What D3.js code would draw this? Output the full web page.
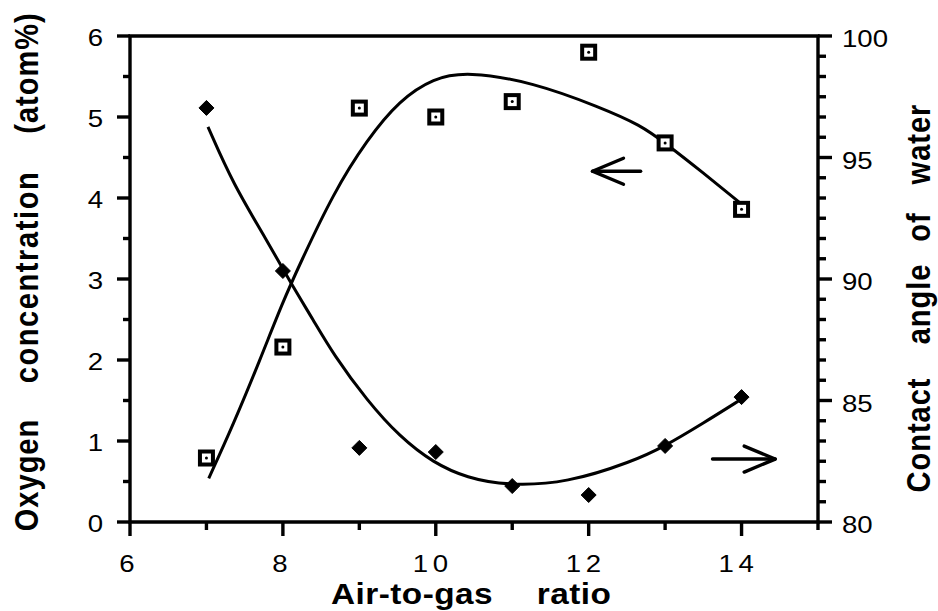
<!DOCTYPE html>
<html>
<head>
<meta charset="utf-8">
<script src="https://cdn.jsdelivr.net/npm/d3@7"></script>
<style>
  body { margin: 0; background: #fff; }
  svg { display: block; font-family: "Liberation Sans", Arial, sans-serif; }
</style>
</head>
<body>
<svg id="chart" width="938" height="611"></svg>
<script>
// measured points
const airRatio = [7, 8, 9, 10, 11, 12, 13, 14];
const oxygen = [0.79, 2.16, 5.11, 5.0, 5.19, 5.8, 4.68, 3.86];
const contactAngle = [97.04, 90.33, 83.05, 82.88, 81.48, 81.11, 83.13, 85.14];

// fitted curves
const oxyFitX = [7.03, 7.35, 7.7, 8.0, 8.22, 8.66, 9.1, 9.53, 9.97, 10.41, 11.27, 12.15, 12.68, 13.0, 13.5, 13.98];
const oxyFitY = [0.54, 1.2, 2.0, 2.72, 3.18, 4.06, 4.72, 5.21, 5.48, 5.56, 5.43, 5.12, 4.9, 4.68, 4.31, 3.94];
const angFitX = [7.02, 7.35, 7.79, 8.09, 8.4, 8.66, 9.1, 9.53, 9.97, 10.41, 10.93, 11.72, 12.58, 12.98, 13.5, 13.98];
const angFitY = [96.26, 93.9, 91.6, 89.9, 88.3, 86.9, 85.0, 83.5, 82.43, 81.81, 81.5, 81.6, 82.5, 83.09, 84.07, 85.02];

// axis ticks
const xMajor = [6, 8, 10, 12, 14];
const xMinor = [7, 9, 11, 13, 15];
const yLeftMajor = [0, 1, 2, 3, 4, 5, 6];
const yRightMajor = [80, 85, 90, 95, 100];

// axis titles, word by word (wide gaps in the original)
const xTitle = ["Air-to-gas", "ratio"];
const yLeftTitle = ["Oxygen", "concentration", "(atom%)"];
const yRightTitle = ["Contact", "angle", "of", "water"];

// arrows: [x from, x to, y]
const leftArrow = [12.68, 12.05, 4.33];
const rightArrow = [13.62, 14.44, 82.59];

const svg = d3.select("#chart");
const plotL = 130, plotR = 818, plotT = 36, plotB = 522;
const stretch = 1.15; // the scan is wider than tall, text too

const x = d3.scaleLinear().domain([6, 15]).range([plotL, plotR]);
const yL = d3.scaleLinear().domain([0, 6]).range([plotB, plotT]);
const yR = d3.scaleLinear().domain([80, 100]).range([plotB, plotT]);

const ink = "#000";
const axisW = 3.4;

// frame
const frame = svg.append("g").attr("stroke", ink).attr("stroke-width", axisW).attr("fill", "none");
frame.append("path").attr("d", `M${plotL},${plotT}H${plotR}V${plotB}H${plotL}Z`);

// x ticks
frame.append("g").selectAll("line").data(xMajor).join("line")
    .attr("x1", d => x(d)).attr("x2", d => x(d))
    .attr("y1", plotB).attr("y2", plotB + 14);
frame.append("g").selectAll("line").data(xMinor).join("line")
    .attr("x1", d => x(d)).attr("x2", d => x(d))
    .attr("y1", plotB).attr("y2", plotB + 8);

// left y ticks
frame.append("g").selectAll("line").data(yLeftMajor).join("line")
    .attr("x1", plotL - 13).attr("x2", plotL)
    .attr("y1", d => yL(d)).attr("y2", d => yL(d));
frame.append("g").selectAll("line").data(d3.range(0.5, 6, 1)).join("line")
    .attr("x1", plotL - 7).attr("x2", plotL)
    .attr("y1", d => yL(d)).attr("y2", d => yL(d));

// right y ticks
frame.append("g").selectAll("line").data(yRightMajor).join("line")
    .attr("x1", plotR).attr("x2", plotR + 14)
    .attr("y1", d => yR(d)).attr("y2", d => yR(d));
frame.append("g").selectAll("line").data(d3.range(1, 24).filter(i => i % 6 !== 0).map(i => 80 + i * 5 / 6)).join("line")
    .attr("x1", plotR).attr("x2", plotR + 8)
    .attr("y1", d => yR(d)).attr("y2", d => yR(d));

// tick labels
const tickFont = 24;
svg.append("g").selectAll("text").data(xMajor).join("text")
    .attr("transform", d => `translate(${x(d) - 3},${plotB + 50}) scale(${stretch},1)`)
    .attr("text-anchor", "middle").attr("font-size", tickFont)
    .attr("letter-spacing", d => d >= 10 ? 4 : 0)
    .text(d => d);
svg.append("g").selectAll("text").data(yLeftMajor).join("text")
    .attr("transform", d => `translate(${plotL - 27},${yL(d) + 10}) scale(${stretch},1)`)
    .attr("text-anchor", "end").attr("font-size", tickFont)
    .text(d => d);
svg.append("g").selectAll("text").data(yRightMajor).join("text")
    .attr("transform", d => `translate(${plotR + 24},${yR(d) + 11}) scale(${stretch},1)`)
    .attr("font-size", tickFont)
    .text(d => d);

// axis titles
const titleStyle = sel => sel.attr("font-size", 29).attr("font-weight", "bold")
    .attr("letter-spacing", 1).attr("text-anchor", "middle");
// word centres along each axis, in pixels
const xTitlePos = [412, 574];
const yLeftTitlePos = [475, 277, 73];
const yRightTitlePos = [435, 304, 227, 144];

svg.append("g").selectAll("text").data(xTitle).join("text").call(titleStyle)
    .attr("letter-spacing", 0.4)
    .attr("transform", (d, i) => `translate(${xTitlePos[i]},604) scale(${stretch},1)`)
    .text(d => d);
svg.append("g").selectAll("text").data(yLeftTitle).join("text").call(titleStyle)
    .attr("letter-spacing", d => d === "concentration" ? 1.6 : 1)
    .attr("transform", (d, i) => `translate(38,${yLeftTitlePos[i]}) scale(${stretch},1) rotate(-90)`)
    .text(d => d);
svg.append("g").selectAll("text").data(yRightTitle).join("text").call(titleStyle)
    .attr("transform", (d, i) => `translate(930,${yRightTitlePos[i]}) scale(${stretch},1) rotate(-90)`)
    .text(d => d);

// fitted curves
const oxyFit = oxyFitX.map((d, i) => [d, oxyFitY[i]]);
const angFit = angFitX.map((d, i) => [d, angFitY[i]]);
svg.append("path").datum(oxyFit)
    .attr("fill", "none").attr("stroke", ink).attr("stroke-width", 3)
    .attr("d", d3.line().x(d => x(d[0])).y(d => yL(d[1])).curve(d3.curveBasis));
svg.append("path").datum(angFit)
    .attr("fill", "none").attr("stroke", ink).attr("stroke-width", 3)
    .attr("d", d3.line().x(d => x(d[0])).y(d => yR(d[1])).curve(d3.curveBasis));

// open squares with dot
const sq = svg.append("g").selectAll("g").data(airRatio).join("g")
    .attr("transform", (d, i) => `translate(${x(d)},${yL(oxygen[i])})`);
sq.append("rect").attr("x", -6.5).attr("y", -6.5).attr("width", 13).attr("height", 13)
    .attr("fill", "#fff").attr("stroke", ink).attr("stroke-width", 4);
sq.append("circle").attr("r", 1.5).attr("fill", ink);

// filled diamonds
svg.append("g").selectAll("path").data(airRatio).join("path")
    .attr("transform", (d, i) => `translate(${x(d)},${yR(contactAngle[i])})`)
    .attr("d", "M0,-7.5L7.5,0L0,7.5L-7.5,0Z")
    .attr("fill", ink).attr("stroke", ink).attr("stroke-width", 1).attr("stroke-linejoin", "round");

// arrows
function arrow(x1, x2, yy) {
    const dir = Math.sign(x2 - x1);
    const g = svg.append("g").attr("fill", "none").attr("stroke", ink)
        .attr("stroke-width", 3.4).attr("stroke-linecap", "round").attr("stroke-linejoin", "round");
    g.append("line").attr("x1", x1).attr("x2", x2).attr("y1", yy).attr("y2", yy);
    g.append("path").attr("d", `M${x2 - dir * 31},${yy - 13}L${x2},${yy}L${x2 - dir * 31},${yy + 13}`);
}
arrow(x(leftArrow[0]), x(leftArrow[1]), yL(leftArrow[2]));
arrow(x(rightArrow[0]), x(rightArrow[1]), yR(rightArrow[2]));
</script>
</body>
</html>
